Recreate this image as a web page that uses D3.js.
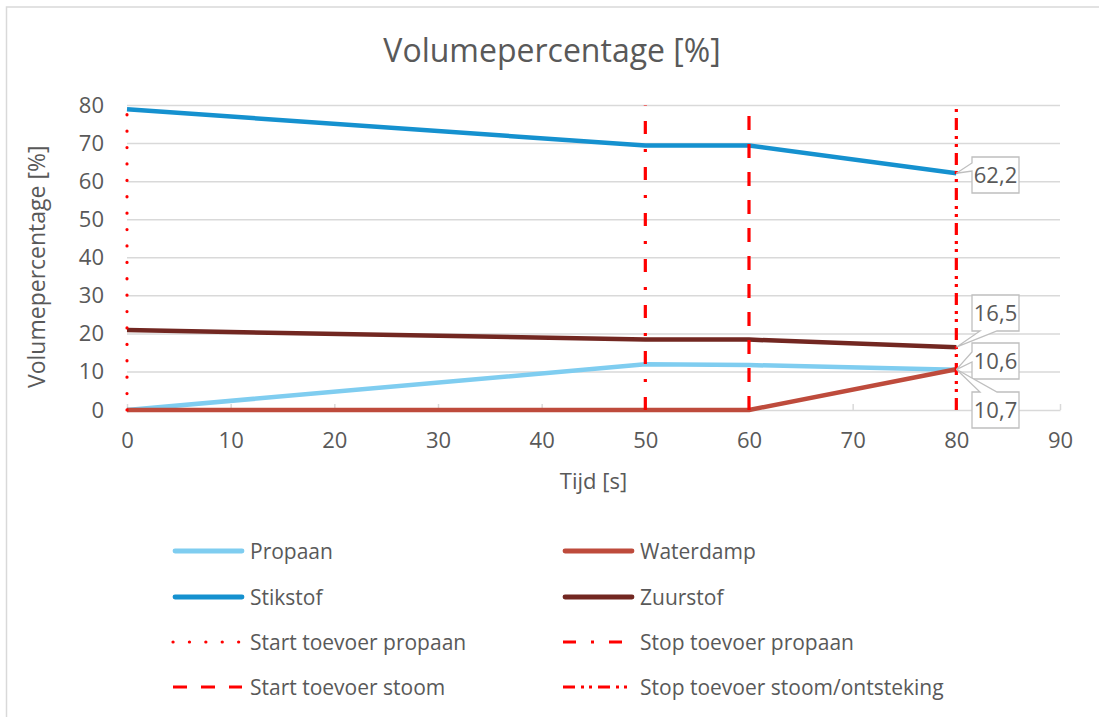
<!DOCTYPE html>
<html>
<head>
<meta charset="utf-8">
<script src="https://cdn.jsdelivr.net/npm/d3@7"></script>
<style>
  html, body { margin: 0; padding: 0; background: #fff; }
  svg text { font-family: "Open Sans", "Noto Sans", sans-serif; fill: #595959; }
</style>
</head>
<body>
<svg id="chart" width="1099" height="717"></svg>
<script>
// ---------- data ----------
const times = [0, 50, 60, 80];
const propaan = [0, 12.0, 11.8, 10.6];
const waterdamp = [0, 0, 0, 10.7];
const stikstof = [79.0, 69.5, 69.5, 62.2];
const zuurstof = [21.0, 18.5, 18.5, 16.5];
const seriesNames = ["Propaan", "Waterdamp", "Stikstof", "Zuurstof"];
const eventNames = ["Start toevoer propaan", "Stop toevoer propaan", "Start toevoer stoom", "Stop toevoer stoom/ontsteking"];
const eventTimes = [0, 50, 60, 80];
const xTicks = [0, 10, 20, 30, 40, 50, 60, 70, 80, 90];
const yTicks = [0, 10, 20, 30, 40, 50, 60, 70, 80];
const titleText = "Volumepercentage [%]";
const xTitle = "Tijd [s]";
const yTitle = "Volumepercentage [%]";

// ---------- styles ----------
const seriesColors = { Propaan: "#7fcdf0", Waterdamp: "#be4b3c", Stikstof: "#1591cf", Zuurstof: "#722721" };
const eventDash = ["0.1,16.3", "13,15,3,15", "14,14", "12,6,3,5,3,6"];
const eventCap = ["round", "butt", "butt", "butt"];

const svg = d3.select("#chart");
const FS = 21;
const TFS = 22;

// outer border (only top/left visible in the crop)
svg.append("rect").attr("x", 6.5).attr("y", 7).attr("width", 1200).attr("height", 800)
  .attr("fill", "#fff").attr("stroke", "#d9d9d9").attr("stroke-width", 1.5);

const x = d3.scaleLinear().domain([0, 90]).range([127, 1060]);
const y = d3.scaleLinear().domain([0, 80]).range([410, 105.5]);

// title
svg.append("text").attr("x", 552).attr("y", 62).attr("text-anchor", "middle")
  .style("font-size", "32px").text(titleText);

// gridlines
svg.append("g").selectAll("line").data(yTicks.filter(d => d > 0)).join("line")
  .attr("x1", x(0)).attr("x2", x(90)).attr("y1", d => y(d)).attr("y2", d => y(d))
  .attr("stroke", "#d9d9d9").attr("stroke-width", 1.5);

// x axis
const xAxis = d3.axisBottom(x).tickValues(xTicks).tickSizeInner(-6).tickSizeOuter(0).tickPadding(22);
const gx = svg.append("g").attr("transform", `translate(0,${y(0)})`).call(xAxis);
gx.select(".domain").attr("stroke", "#d9d9d9").attr("stroke-width", 1.5);
gx.selectAll(".tick line").attr("stroke", "#d9d9d9").attr("stroke-width", 1.5);
gx.selectAll(".tick text").style("font-size", TFS + "px").attr("fill", "#595959").attr("font-family", null);

// y axis
const yAxis = d3.axisLeft(y).tickValues(yTicks).tickSize(0).tickPadding(23);
const gy = svg.append("g").attr("transform", `translate(${x(0)},0)`).call(yAxis);
gy.select(".domain").remove();
gy.selectAll(".tick text").style("font-size", TFS + "px").attr("fill", "#595959").attr("font-family", null);

// axis titles
svg.append("text").attr("x", x(45)).attr("y", 489).attr("text-anchor", "middle")
  .style("font-size", "22px").text(xTitle);
svg.append("text").attr("transform", `translate(45,${(y(0) + y(80)) / 2 + 9}) rotate(-90)`)
  .attr("text-anchor", "middle").style("font-size", "23px").text(yTitle);

// series
const seriesData = { Propaan: propaan, Waterdamp: waterdamp, Stikstof: stikstof, Zuurstof: zuurstof };
const line = d3.line().x(d => x(d[0])).y(d => y(d[1]));
const drawOrder = ["Propaan", "Waterdamp", "Stikstof", "Zuurstof"];
drawOrder.forEach(name => {
  const pts = times.map((t, i) => [t, seriesData[name][i]]);
  svg.append("path").datum(pts).attr("d", line).attr("fill", "none")
    .attr("stroke", seriesColors[name]).attr("stroke-width", 4.5).attr("stroke-linejoin", "round");
});

// event lines (drawn from bottom upwards)
eventTimes.forEach((t, i) => {
  svg.append("line").attr("x1", x(t)).attr("x2", x(t)).attr("y1", y(0)).attr("y2", y(80))
    .attr("stroke", "#ff0000").attr("stroke-width", 3.2)
    .attr("stroke-dasharray", eventDash[i]).attr("stroke-linecap", eventCap[i]);
});

// data labels (callouts)
const fmt = v => d3.format(".1f")(v).replace(".", ",");
const labels = [
  { v: stikstof[3], bx: 972, by: 157, side: "left", w1: 163, w2: 171 },
  { v: zuurstof[3], bx: 972, by: 295, side: "bottom", w1: 980, w2: 997 },
  { v: propaan[3], bx: 972, by: 343, side: "left", w1: 352, w2: 362 },
  { v: waterdamp[3], bx: 972, by: 392, side: "top", w1: 980, w2: 997 }
];
const BW = 47, BH = 36;
labels.forEach(l => {
  const px = x(80), py = y(l.v);
  const x0 = l.bx, y0 = l.by, x1 = l.bx + BW, y1 = l.by + BH;
  let p;
  if (l.side === "left") {
    p = `M${x0},${y0} L${x1},${y0} L${x1},${y1} L${x0},${y1} L${x0},${l.w2} L${px},${py} L${x0},${l.w1} Z`;
  } else if (l.side === "bottom") {
    p = `M${x0},${y0} L${x1},${y0} L${x1},${y1} L${l.w2},${y1} L${px},${py} L${l.w1},${y1} L${x0},${y1} Z`;
  } else {
    p = `M${x0},${y0} L${l.w1},${y0} L${px},${py} L${l.w2},${y0} L${x1},${y0} L${x1},${y1} L${x0},${y1} Z`;
  }
  svg.append("path").attr("d", p).attr("fill", "#fff").attr("stroke", "#bfbfbf").attr("stroke-width", 1.3);
  svg.append("text").attr("x", x0 + BW / 2).attr("y", y0 + BH / 2 + 8).attr("text-anchor", "middle")
    .style("font-size", TFS + "px").text(fmt(l.v));
});

// legend
const legendItems = [
  { name: seriesNames[0], color: seriesColors.Propaan, w: 4.8, dash: null, cap: "round" },
  { name: seriesNames[1], color: seriesColors.Waterdamp, w: 4.8, dash: null, cap: "round" },
  { name: seriesNames[2], color: seriesColors.Stikstof, w: 4.8, dash: null, cap: "round" },
  { name: seriesNames[3], color: seriesColors.Zuurstof, w: 4.8, dash: null, cap: "round" },
  { name: eventNames[0], color: "#ff0000", w: 3.2, dash: eventDash[0], cap: eventCap[0] },
  { name: eventNames[1], color: "#ff0000", w: 3.2, dash: eventDash[1], cap: eventCap[1] },
  { name: eventNames[2], color: "#ff0000", w: 3.2, dash: eventDash[2], cap: eventCap[2] },
  { name: eventNames[3], color: "#ff0000", w: 3.2, dash: eventDash[3], cap: eventCap[3] }
];
const colX = [173, 563], rowY = [551, 597, 642, 687];
legendItems.forEach((it, i) => {
  const cx = colX[i % 2], cy = rowY[Math.floor(i / 2)];
  const g = svg.append("g");
  g.append("line").attr("x1", cx + (it.cap === "round" && !it.dash ? 2 : 0)).attr("x2", cx + 69)
    .attr("y1", cy).attr("y2", cy)
    .attr("stroke", it.color).attr("stroke-width", it.w)
    .attr("stroke-dasharray", it.dash).attr("stroke-linecap", it.cap);
  g.append("text").attr("x", cx + 77).attr("y", cy + 7.5).style("font-size", FS + "px").text(it.name);
});
</script>
</body>
</html>
